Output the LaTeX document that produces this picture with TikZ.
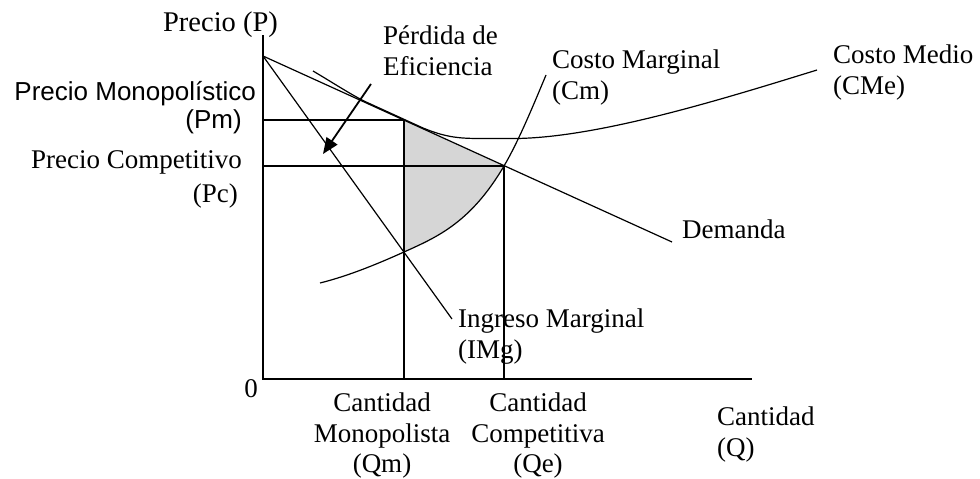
\documentclass[tikz,border=0pt]{standalone}
\usepackage{fontspec}
\setmainfont{Liberation Serif}
\newfontfamily\sansf{Liberation Sans}
\usetikzlibrary{arrows.meta}
\begin{document}
\begin{tikzpicture}[x=1pt,y=-1pt,
 lbl/.style={inner sep=0pt, font=\fontsize{27}{30.5}\selectfont},
 sanslbl/.style={inner sep=0pt, font=\sansf\fontsize{26}{30}\selectfont},
 axis/.style={line width=2pt},
 guide/.style={line width=1.6pt},
 curve/.style={line width=1.2pt},
 shade/.style={fill=black!16},
 pointer/.style={line width=1.8pt,-{Triangle[length=16pt,width=13pt]}},
]
\path[use as bounding box] (0,0) rectangle (980,479);
% key points
\coordinate (O) at (263,379);
\coordinate (Ytop) at (263,35);
\coordinate (Xend) at (752,379);
\coordinate (A) at (263,56);
\coordinate (Dend) at (672,242);
\coordinate (Mend) at (452,319);
\coordinate (PmY) at (263,120);
\coordinate (PcY) at (263,166);
\coordinate (E1) at (404,120);
\coordinate (E2) at (504,166);
\coordinate (F) at (404,252);
\coordinate (QmX) at (404,379);
\coordinate (QeX) at (504,379);
\coordinate (CmS) at (320,283);
\coordinate (CmE) at (546,75);
\coordinate (CMeS) at (313,71);
\coordinate (CMeE) at (817,70);
\coordinate (arrS) at (371,84);
\coordinate (arrE) at (323,154);
% shaded deadweight loss
\path[shade] (E1) -- (E2) .. controls (470.7,222.6) and (437.3,237) .. (F) -- cycle;
% guide lines
\draw[guide] (PmY) -- (E1) -- (QmX);
\draw[guide] (PcY) -- (E2) -- (QeX);
% curves
\draw[curve] (A) -- (Dend);
\draw[curve] (A) -- (Mend);
\draw[curve] (CmS) .. controls (348,276) and (376,264.6) .. (F)
  .. controls (437.3,237) and (470.7,222.6) .. (E2)
  .. controls (518,142.2) and (532,108.6) .. (CmE);
\draw[curve] (CMeS) .. controls (335,84) and (350,94) .. (365,101.5) -- (423,128)
  .. controls (445,137) and (458,138.5) .. (480,138.5) -- (517,138.5)
  .. controls (600,137) and (720,100) .. (CMeE);
% axes
\draw[axis] (Ytop) -- (O) -- (Xend);
% arrow
\draw[pointer] (arrS) -- (arrE);
% labels
\node[lbl, font=\fontsize{28.5}{32}\selectfont, anchor=base] (precioP) at (220.5,31) {Precio (P)};
\node[sanslbl, anchor=base east] (pmon) at (256,100) {Precio Monopolístico};
\node[sanslbl, anchor=base east] (pm) at (242,128) {(Pm)};
\node[lbl, anchor=base east] (pcomp) at (242,168) {Precio Competitivo};
\node[lbl, anchor=base east] (pc) at (238,202) {(Pc)};
\node[lbl, align=left, anchor=north west] (perdida) at (383,26) {Pérdida de\\Eficiencia};
\node[lbl, align=left, anchor=north west] (cm) at (552,50) {Costo Marginal\\(Cm)};
\node[lbl, align=left, anchor=north west] (cme) at (833,45) {Costo Medio\\(CMe)};
\node[lbl, anchor=north west] (dem) at (682,220) {Demanda};
\node[lbl, align=left, anchor=north west] (img) at (458,309) {Ingreso Marginal\\(IMg)};
\node[lbl] (cero) at (251,389) {0};
\node[lbl, align=center, anchor=north] (qm) at (382,393) {Cantidad\\Monopolista\\(Qm)};
\node[lbl, align=center, anchor=north] (qe) at (538,393) {Cantidad\\Competitiva\\(Qe)};
\node[lbl, align=left, anchor=north west] (q) at (717,407) {Cantidad\\(Q)};
\end{tikzpicture}
\end{document}
